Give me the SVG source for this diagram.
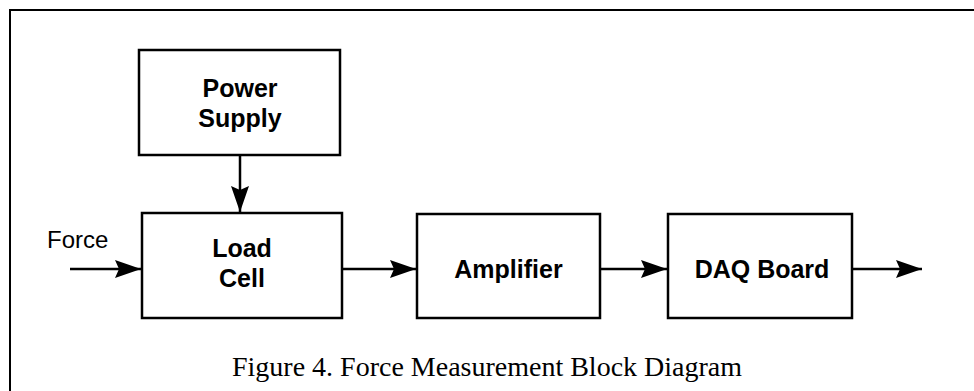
<svg xmlns="http://www.w3.org/2000/svg" width="974" height="391" viewBox="0 0 974 391">
<style>
.box{fill:#fff;stroke:#000;stroke-width:2.5}
.lbl{font-family:"Liberation Sans",Arial,sans-serif;font-weight:bold;font-size:25px;text-anchor:middle;fill:#000}
.plain{font-family:"Liberation Sans",Arial,sans-serif;font-size:24px;fill:#000}
.cap{font-family:"Liberation Serif","Times New Roman",serif;font-size:28px;text-anchor:middle;fill:#000}
.con{stroke:#000;stroke-width:2.5;fill:none;marker-end:url(#ah)}
</style>
<defs>
<marker id="ah" markerUnits="userSpaceOnUse" markerWidth="28" markerHeight="20" refX="26" refY="9" orient="auto">
<path d="M0,0 L26,9 L0,18 L4,9 Z" fill="#000"/>
</marker>
</defs>
<rect width="974" height="391" fill="#fff"/>
<g id="frame">
<path d="M10,391 L10,10 L974,10" fill="none" stroke="#000" stroke-width="2"/>
</g>
<g id="power-supply">
<rect class="box" x="139" y="50" width="201" height="105"/>
<text class="lbl" x="240" y="97">Power</text>
<text class="lbl" x="240" y="127">Supply</text>
</g>
<g id="load-cell">
<rect class="box" x="142" y="213" width="200" height="105"/>
<text class="lbl" x="242" y="257">Load</text>
<text class="lbl" x="242" y="287">Cell</text>
</g>
<g id="amplifier">
<rect class="box" x="417" y="214" width="183" height="104"/>
<text class="lbl" x="508.5" y="278">Amplifier</text>
</g>
<g id="daq-board">
<rect class="box" x="668" y="214" width="184" height="104"/>
<text class="lbl" x="762" y="278">DAQ Board</text>
</g>
<g id="force-label">
<text class="plain" x="47" y="248">Force</text>
</g>
<g id="connectors">
<line class="con" x1="240" y1="155" x2="240" y2="212"/>
<line class="con" x1="70" y1="269" x2="141" y2="269"/>
<line class="con" x1="342" y1="269" x2="416" y2="269"/>
<line class="con" x1="600" y1="269" x2="667" y2="269"/>
<line class="con" x1="852" y1="269" x2="922" y2="269"/>
</g>
<g id="caption">
<text class="cap" x="487" y="376">Figure 4. Force Measurement Block Diagram</text>
</g>
</svg>
